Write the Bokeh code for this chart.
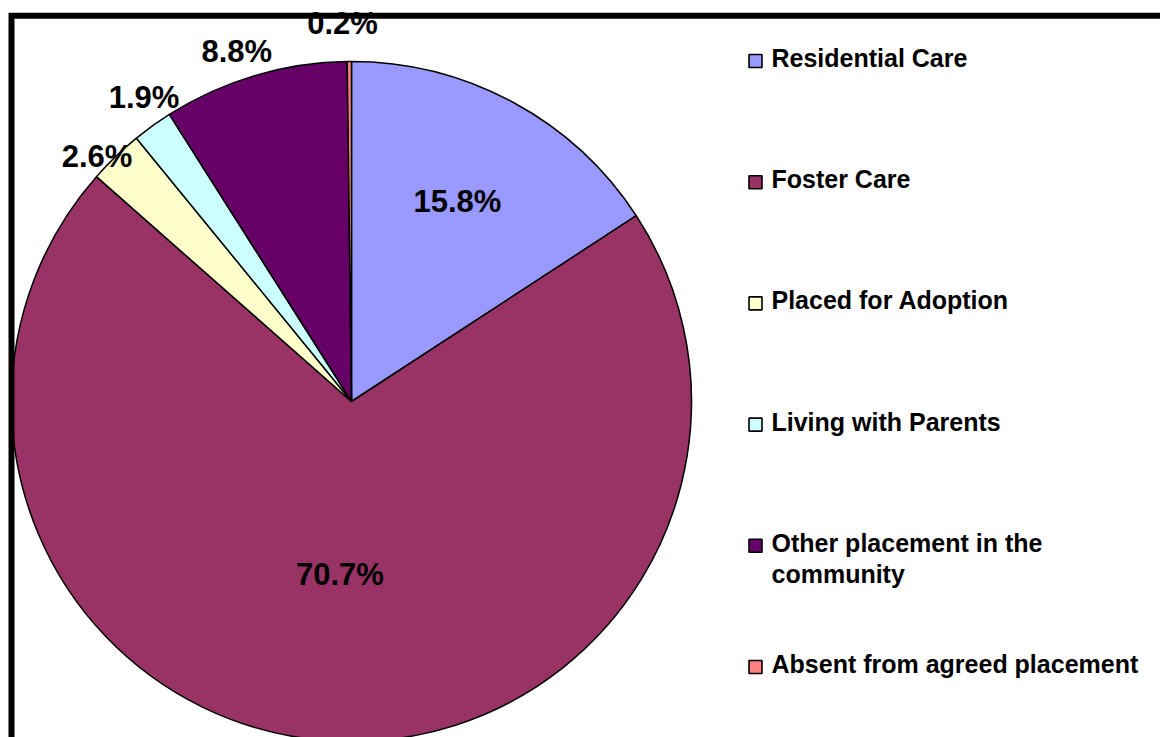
import numpy as np
from bokeh.plotting import figure
from bokeh.models import Range1d, ColumnDataSource
from bokeh.core.properties import value
from bokeh.embed import file_html
from bokeh.resources import INLINE

# ---- data ----
categories = ["Residential Care", "Foster Care", "Placed for Adoption",
              "Living with Parents", "Other placement in the community",
              "Absent from agreed placement"]
percentages = [15.8, 70.7, 2.6, 1.9, 8.8, 0.2]
label_texts = ["15.8%", "70.7%", "2.6%", "1.9%", "8.8%", "0.2%"]
colors = ["#9999FF", "#993366", "#FFFFCC", "#CCFFFF", "#660066", "#FF8080"]

# ---- layout ----
W, H = 1160, 737
def px(xp):  # screen x -> data x
    return xp
def py(yp):  # screen y (top-down) -> data y
    return H - yp

cx, cy, R = px(351), py(401), 340
label_r = [226, 173, 353, 368, 368, 378]
label_nudge = [0.5, 0.3, 2.2, -1.5, 1.6, 1.0]

p = figure(width=W, height=H, output_backend="svg", toolbar_location=None,
           x_range=Range1d(0, W), y_range=Range1d(0, H),
           x_axis_location=None, y_axis_location=None, min_border=0,
           background_fill_color="white", border_fill_color="white")
p.grid.visible = False
p.outline_line_color = None

vals = np.array(percentages) / 100.0
cum = np.concatenate([[0], np.cumsum(vals)])
start = np.pi / 2 - 2 * np.pi * cum[:-1]
end = np.pi / 2 - 2 * np.pi * cum[1:]
mid = (start + end) / 2

src = ColumnDataSource(dict(start=start, end=end, color=colors, cat=categories))
p.wedge(x=cx, y=cy, radius=R, radius_units="screen", start_angle="start", end_angle="end",
        direction="clock", fill_color="color", line_color="black", line_width=1.5, source=src)

# data labels
la = mid + np.radians(label_nudge)
lx = cx + np.array(label_r) * np.cos(la)
ly = cy + np.array(label_r) * np.sin(la)
p.text(x=lx, y=ly, text=label_texts, text_font=value("Liberation Sans"),
       text_font_style="bold", text_font_size="31px", text_align="center",
       text_baseline="middle", text_color="black")

# legend
leg_x_sq = px(755)
leg_x_txt = px(771)
leg_y0, leg_dy = 60.5, 121.2
sq_y = [py(leg_y0 + i * leg_dy) for i in range(len(categories))]
p.scatter(x=[leg_x_sq] * len(categories), y=sq_y, marker="square", size=13,
          fill_color=colors, line_color="black", line_width=1.6)

tx, ty, tt = [], [], []
for i, c in enumerate(categories):
    if len(c) > 28:
        words = c.split(" ")
        lines = [" ".join(words[:-1]), words[-1]]
    else:
        lines = [c]
    for j, ln in enumerate(lines):
        tx.append(leg_x_txt)
        ty.append(py(leg_y0 + i * leg_dy - 3.0 + j * 31))
        tt.append(ln)
p.text(x=tx, y=ty, text=tt, text_font=value("Liberation Sans"), text_font_style="bold",
       text_font_size="25px", text_align="left", text_baseline="alphabetic", text_color="black")

# frame lines (left and top)
p.line(x=[px(11), px(11), W + 10], y=[-10, py(15.3), py(15.3)], line_color="black",
       line_width=6, line_join="miter")

open("out.html", "w").write(file_html(p, INLINE))
